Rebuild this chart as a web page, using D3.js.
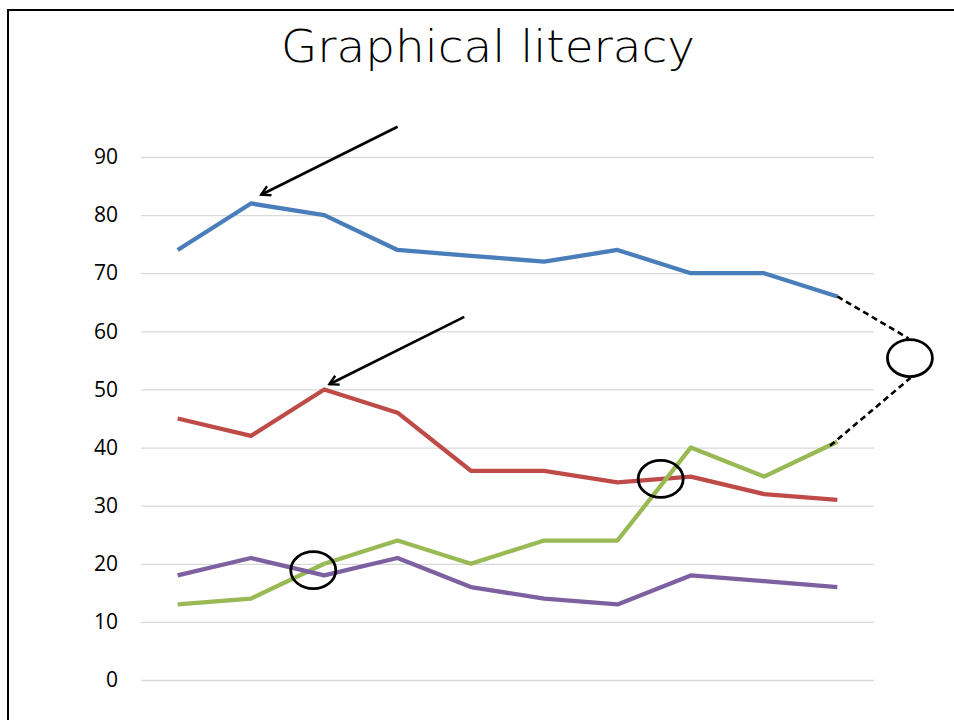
<!DOCTYPE html>
<html>
<head>
<meta charset="utf-8">
<script src="https://cdn.jsdelivr.net/npm/d3@7"></script>
<style>
  html, body { margin: 0; padding: 0; background: #fff; }
  svg { display: block; }
</style>
</head>
<body>
<svg id="chart" width="954" height="720"></svg>
<script>
// Ten survey rounds (unlabelled on the x axis)
const categories = ["1", "2", "3", "4", "5", "6", "7", "8", "9", "10"];

// Four series, one value per round
const seriesBlue   = [74, 82, 80, 74, 73, 72, 74, 70, 70, 66];
const seriesRed    = [45, 42, 50, 46, 36, 36, 34, 35, 32, 31];
const seriesGreen  = [13, 14, 20, 24, 20, 24, 24, 40, 35, 41];
const seriesPurple = [18, 21, 18, 21, 16, 14, 13, 18, 17, 16];

const yTicks = [0, 10, 20, 30, 40, 50, 60, 70, 80, 90];
const titleText = "Graphical literacy";

const series = [
  { name: "blue",   values: seriesBlue,   color: "#4a7ebb" },
  { name: "red",    values: seriesRed,    color: "#be4b48" },
  { name: "green",  values: seriesGreen,  color: "#98b954" },
  { name: "purple", values: seriesPurple, color: "#7d60a0" }
];

// Callouts expressed in chart units: (position along rounds, value)
const arrows = [
  { from: [3.0, 95.2], to: [1.14, 83.5] },
  { from: [3.91, 62.5], to: [2.07, 50.9] }
];
const rings = [
  { at: [1.85, 18.9] },
  { at: [6.59, 34.6] },
  { at: [9.99, 55.4] }
];
// dashed connectors from the last points to the outer ring
const connectors = [
  { from: [9.0, 66.0], to: [9.97, 58.8] },
  { from: [8.9, 40.3], to: [10.0, 52.0] }
];

const svg = d3.select("#chart");

// Slide frame: top and left edges
svg.append("line").attr("x1", 8).attr("x2", 954).attr("y1", 10).attr("y2", 10)
  .attr("stroke", "#000").attr("stroke-width", 2);
svg.append("line").attr("x1", 8).attr("x2", 8).attr("y1", 9).attr("y2", 720)
  .attr("stroke", "#000").attr("stroke-width", 2);

// Title
const title = svg.append("text")
  .attr("x", 488).attr("y", 62)
  .attr("text-anchor", "middle")
  .attr("font-family", "'DejaVu Sans', sans-serif")
  .attr("font-weight", 300)
  .attr("font-size", 45)
  .attr("fill", "#000")
  .text(titleText);
title.attr("textLength", 414).attr("lengthAdjust", "spacingAndGlyphs");

const plotLeft = 141, plotRight = 874;
const x = d3.scalePoint().domain(categories).range([plotLeft, plotRight]).padding(0.5);
const y = d3.scaleLinear().domain([0, 90]).range([680, 157]);
// continuous position along the rounds, for callouts between points
const xi = d3.scaleLinear().domain([0, categories.length - 1])
  .range([x(categories[0]), x(categories[categories.length - 1])]);

// Horizontal gridlines + labels via a left axis
const yAxis = d3.axisLeft(y).tickValues(yTicks)
  .tickSize(-(plotRight - plotLeft)).tickPadding(23).tickFormat(d3.format("d"));
const gy = svg.append("g").attr("transform", `translate(${plotLeft},0)`).call(yAxis);
gy.select(".domain").remove();
gy.selectAll(".tick line").attr("stroke", "#d9d9d9").attr("stroke-width", 1.3);
gy.selectAll(".tick text")
  .attr("font-family", "'Open Sans', 'Liberation Sans', sans-serif")
  .attr("font-size", 21).attr("fill", "#000");

// Series lines
const line = d3.line()
  .x((d, i) => x(categories[i]))
  .y(d => y(d));
svg.append("g").selectAll("path").data(series).join("path")
  .attr("d", d => line(d.values))
  .attr("fill", "none")
  .attr("stroke", d => d.color)
  .attr("stroke-width", 4.3)
  .attr("stroke-linejoin", "round");

// Arrowhead marker
svg.append("defs").append("marker")
  .attr("id", "head").attr("viewBox", "0 0 12 12")
  .attr("refX", 10).attr("refY", 6)
  .attr("markerWidth", 12).attr("markerHeight", 12)
  .attr("markerUnits", "userSpaceOnUse")
  .attr("orient", "auto")
  .append("path").attr("d", "M1,1 L10,6 L1,11")
  .attr("fill", "none").attr("stroke", "#000").attr("stroke-width", 2.4);

svg.append("g").selectAll("line").data(arrows).join("line")
  .attr("x1", d => xi(d.from[0])).attr("y1", d => y(d.from[1]))
  .attr("x2", d => xi(d.to[0])).attr("y2", d => y(d.to[1]))
  .attr("stroke", "#000").attr("stroke-width", 2.6)
  .attr("marker-end", "url(#head)");

// Dashed connectors
svg.append("g").selectAll("line").data(connectors).join("line")
  .attr("x1", d => xi(d.from[0])).attr("y1", d => y(d.from[1]))
  .attr("x2", d => xi(d.to[0])).attr("y2", d => y(d.to[1]))
  .attr("stroke", "#000").attr("stroke-width", 2.6)
  .attr("stroke-dasharray", "6,4");

// Rings
svg.append("g").selectAll("ellipse").data(rings).join("ellipse")
  .attr("cx", d => xi(d.at[0])).attr("cy", d => y(d.at[1]))
  .attr("rx", 22.5).attr("ry", 18.5)
  .attr("fill", "none").attr("stroke", "#000").attr("stroke-width", 2.8);
</script>
</body>
</html>
